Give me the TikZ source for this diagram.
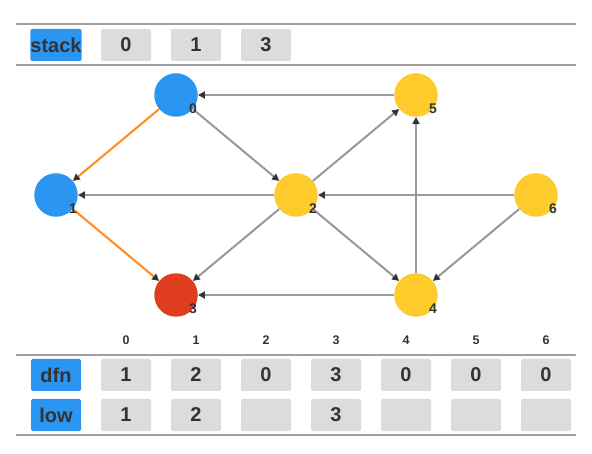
\documentclass[tikz,border=0pt]{standalone}
\usepackage{fontspec}
\setmainfont{Liberation Sans}
\usetikzlibrary{arrows.meta,calc}
\definecolor{nblue}{RGB}{42,150,242}
\definecolor{nyellow}{RGB}{255,202,44}
\definecolor{nred}{RGB}{222,62,30}
\definecolor{eorange}{RGB}{255,140,26}
\definecolor{egrey}{RGB}{153,153,153}
\definecolor{cellgrey}{RGB}{220,220,220}
\definecolor{txt}{RGB}{51,51,51}
\definecolor{rule}{RGB}{160,160,160}
\tikzset{
  vtx/.style={circle,inner sep=0pt,minimum size=43.5pt},
  lbl/.style={inner sep=0pt,font=\bfseries\fontsize{14}{14}\selectfont,text=txt},
  edge/.style={draw=egrey,line width=2pt,-{Triangle[length=7pt,width=7pt,color=txt]}},
  tedge/.style={edge,draw=eorange},
  cell/.style={fill=cellgrey,rounded corners=2pt,minimum width=50pt,minimum height=32pt,inner sep=0pt,font=\bfseries\fontsize{20}{20}\selectfont,text=txt},
  head/.style={fill=nblue,rounded corners=1.5pt,minimum width=50pt,minimum height=32pt,inner sep=0pt,font=\bfseries\fontsize{20}{20}\selectfont,text=txt},
  idx/.style={inner sep=0pt,font=\bfseries\fontsize{12.5}{12.5}\selectfont,text=txt},
  hrule/.style={draw=rule,line width=2pt}
}
\begin{document}
\begin{tikzpicture}[x=1pt,y=-1pt]
\useasboundingbox (0,0) rectangle (592,454);
% stack section
\coordinate (s1a) at (16,24); \coordinate (s1b) at (576,24);
\coordinate (s2a) at (16,65); \coordinate (s2b) at (576,65);
\draw[hrule] (s1a) -- (s1b);
\draw[hrule] (s2a) -- (s2b);
\node[head] (stk) at (56,45) {stack};
\node[cell] (st0) at (126,45) {0};
\node[cell] (st1) at (196,45) {1};
\node[cell] (st2) at (266,45) {3};
% graph vertices
\node[vtx,fill=nblue] (n0) at (176,95) {};
\node[vtx,fill=nblue] (n1) at (56,195) {};
\node[vtx,fill=nyellow] (n2) at (296,195) {};
\node[vtx,fill=nred] (n3) at (176,295) {};
\node[vtx,fill=nyellow] (n4) at (416,295) {};
\node[vtx,fill=nyellow] (n5) at (416,95) {};
\node[vtx,fill=nyellow] (n6) at (536,195) {};
% edges
\draw[edge] (n5) -- (n0);
\draw[edge] (n0) -- (n2);
\draw[tedge] (n0) -- (n1);
\draw[tedge] (n1) -- (n3);
\draw[edge] (n2) -- (n1);
\draw[edge] (n2) -- (n3);
\draw[edge] (n2) -- (n5);
\draw[edge] (n2) -- (n4);
\draw[edge] (n4) -- (n5);
\draw[edge] (n4) -- (n3);
\draw[edge] (n6) -- (n2);
\draw[edge] (n6) -- (n4);
% vertex labels
\foreach \i in {0,...,6}{
  \node[lbl] (l\i) at ($(n\i)+(17,13.5)$) {\i};
}
% table
\coordinate (t1a) at (16,355); \coordinate (t1b) at (576,355);
\coordinate (t2a) at (16,435); \coordinate (t2b) at (576,435);
\draw[hrule] (t1a) -- (t1b);
\draw[hrule] (t2a) -- (t2b);
\node[head] (dfn) at (56,375) {dfn};
\node[head] (low) at (56,415) {low};
\foreach \i/\d/\l in {0/1/1,1/2/2,2/0/,3/3/3,4/0/,5/0/,6/0/}{
  \node[idx] (ix\i) at (126+70*\i,340) {\i};
  \node[cell] (d\i) at (126+70*\i,375) {\d};
  \node[cell] (w\i) at (126+70*\i,415) {\l};
}
\end{tikzpicture}
\end{document}
